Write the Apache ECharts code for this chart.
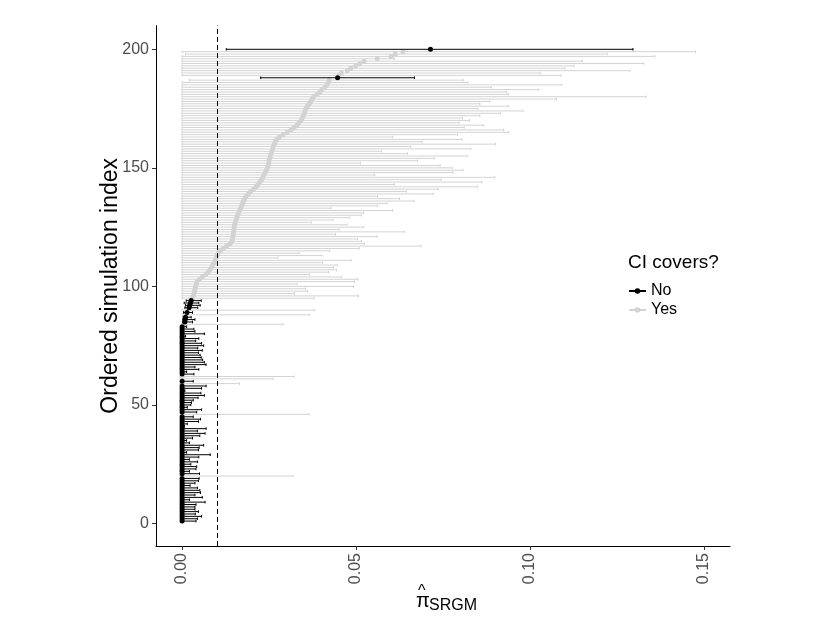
<!DOCTYPE html>
<html>
<head>
<meta charset="utf-8">
<script src="https://cdn.jsdelivr.net/npm/echarts@6/dist/echarts.min.js"></script>
<style>
  html, body { margin: 0; padding: 0; background: #fff; }
  #chart { width: 830px; height: 642px; }
</style>
</head>
<body>
<div id="chart"></div>
<script>
// one row per simulation, ordered by the point estimate (index 1..200)
var estimate = [
  0,0,0,0,0,0,0,0,0,0,
  0,0,0,0,0,0,0,0,0,0,
  0,0,0,0,0,0,0,0,0,0,
  0,0,0,0,0,0,0,0,0,0,
  0,0,0,0,0,0,0,0,0,0,
  0,0,0,0,0,0,0,0,0,0,
  0,0,0,0,0,0,0,0,0,0,
  0,0,0,0,0,0,0,0,0,0,
  0,0,0,.0005,.0008,.0009,.0010,.0012,.0014,.0017,
  .0020,.0022,.0024,.0026,.0030,.0032,.0034,.0036,.0037,.0039,
  .0041,.0043,.0050,.0058,.0068,.0075,.0080,.0085,.0088,.0092,
  .0096,.0098,.0100,.0104,.0111,.0118,.0128,.0138,.0143,.0145,
  .0146,.0147,.0148,.0149,.0150,.0151,.0153,.0155,.0157,.0159,
  .0162,.0165,.0168,.0171,.0174,.0177,.0180,.0184,.0190,.0197,
  .0205,.0213,.0218,.0223,.0228,.0232,.0235,.0239,.0242,.0245,
  .0247,.0249,.0250,.0252,.0254,.0256,.0258,.0260,.0262,.0265,
  .0268,.0272,.0280,.0290,.0302,.0313,.0322,.0330,.0336,.0342,
  .0345,.0348,.0351,.0354,.0356,.0360,.0366,.0370,.0374,.0378,
  .0388,.0396,.0402,.0410,.0416,.0420,.0423,.0447,.0451,.0458,
  .0475,.0485,.0499,.0511,.0523,.0561,.0601,.0613,.0635,.0714
];
var lower = [
  0,0,0,0,0,0,0,0,0,0,
  0,0,0,0,0,0,0,0,0,0,
  0,0,0,0,0,0,0,0,0,0,
  0,0,0,0,0,0,0,0,0,0,
  0,0,0,0,0,0,0,0,0,0,
  0,0,0,0,0,0,0,0,0,0,
  0,0,0,0,0,0,0,0,0,0,
  0,0,0,0,0,0,0,0,0,0,
  0,0,0,0,.0002,.0002,.0003,0,.0004,0,
  .0008,.0010,.0006,.0012,0,0,0,0,0,0,
  0,0,0,0,0,0,0,0,0,0,
  0,0,0,0,0,0,0,0,0,0,
  0,0,0,0,0,0,0,0,0,0,
  0,0,0,0,0,0,0,0,0,0,
  0,0,0,0,0,0,0,0,0,0,
  0,0,0,0,0,0,0,0,0,0,
  0,0,0,0,0,0,0,0,0,0,
  0,0,0,0,0,0,0,0,0,0,
  0,0,0,0,0,0,.0022,.0226,0,0,
  0,0,0,0,0,0,0,.0010,0,.0127
];
var upper = [
  .0040,.0044,.0056,.0038,.0047,.0037,.0037,.0040,.0066,.0021,
  .0058,.0037,.0053,.0051,.0044,.0023,.0037,.0047,.0049,.0318,
  .0050,.0021,.0040,.0042,.0025,.0044,.0021,.0048,.0081,.0013,
  .0047,.0049,.0062,.0021,.0013,.0030,.0051,.0066,.0044,.0069,
  .0007,.0015,.0047,.0053,.0032,.0365,.0042,.0056,.0015,.0025,
  .0027,.0032,.0046,.0064,.0054,.0008,.0056,.0069,.0165,.0032,
  .0262,.0322,.0034,.0013,.0048,.0037,.0069,.0064,.0059,.0055,
  .0052,.0047,.0058,.0045,.0062,.0056,.0039,.0048,.0010,.0064,
  .0037,.0034,.0013,.0290,.0030,.0037,.0026,.0366,.0030,.0380,
  .0045,.0052,.0048,.0055,.0379,.0507,.0323,.0361,.0354,.0493,
  .0331,.0496,.0505,.0459,.0366,.0421,.0444,.0435,.0447,.0404,
  .0486,.0276,.0402,.0337,.0424,.0509,.0687,.0524,.0515,.0504,
  .0561,.0441,.0640,.0451,.0522,.0474,.0371,.0434,.0482,.0515,
  .0522,.0605,.0428,.0562,.0589,.0667,.0625,.0562,.0722,.0645,
  .0736,.0849,.0610,.0862,.0745,.0899,.0554,.0779,.0808,.0776,
  .0742,.0513,.0677,.0725,.0819,.0648,.0573,.0830,.0657,.0901,
  .0690,.0805,.0606,.0792,.0939,.0924,.0811,.0867,.0796,.0826,
  .0806,.0856,.0915,.0980,.0850,.0939,.0856,.0885,.1076,.1334,
  .0939,.0933,.1025,.0889,.1092,.0822,.0808,.0668,.1089,.1030,
  .1287,.1101,.1127,.1327,.1151,.0610,.1359,.1222,.1476,.1296
];
// 1 = CI covers the true value, 0 = it does not
var covers = [
  0,0,0,0,0,0,0,0,0,0,
  0,0,0,0,0,0,0,0,0,1,
  0,0,0,0,0,0,0,0,0,0,
  0,0,0,0,0,0,0,0,0,0,
  0,0,0,0,0,1,0,0,0,0,
  0,0,0,0,0,0,0,0,1,0,
  1,1,0,0,0,0,0,0,0,0,
  0,0,0,0,0,0,0,0,0,0,
  0,0,0,1,0,0,0,1,0,1,
  0,0,0,0,1,1,1,1,1,1,
  1,1,1,1,1,1,1,1,1,1,
  1,1,1,1,1,1,1,1,1,1,
  1,1,1,1,1,1,1,1,1,1,
  1,1,1,1,1,1,1,1,1,1,
  1,1,1,1,1,1,1,1,1,1,
  1,1,1,1,1,1,1,1,1,1,
  1,1,1,1,1,1,1,1,1,1,
  1,1,1,1,1,1,1,1,1,1,
  1,1,1,1,1,1,1,0,1,1,
  1,1,1,1,1,1,1,1,1,0
];
var trueValue = 0.01;
var xTicks = [0, 0.05, 0.10, 0.15];
var yTicks = [0, 50, 100, 150, 200];

var GREY = '#d3d3d3';
var FONT = 'Liberation Sans, Arial, sans-serif';

// split rows by coverage
var ciYes = [], ciNo = [], ptYes = [], ptNo = [];
for (var i = 0; i < estimate.length; i++) {
	var idx = i + 1;
	if (covers[i]) {
		ciYes.push([lower[i], upper[i], idx]);
		ptYes.push([estimate[i], idx]);
	} else {
		ciNo.push([lower[i], upper[i], idx]);
		ptNo.push([estimate[i], idx]);
	}
}

// horizontal interval with tiny end caps
function ciRenderer(color){
	return function(params, api){
		var y = api.value(2);
		var a = api.coord([api.value(0), y]);
		var b = api.coord([api.value(1), y]);
		var c = 1.3;
		var st = {stroke: color, lineWidth: 1};
		return {
			type: 'group',
			children: [
				{type: 'line', shape: {x1: a[0], y1: a[1], x2: b[0], y2: b[1]}, style: st},
				{type: 'line', shape: {x1: a[0], y1: a[1]-c, x2: a[0], y2: a[1]+c}, style: st},
				{type: 'line', shape: {x1: b[0], y1: b[1]-c, x2: b[0], y2: b[1]+c}, style: st}
			]
		};
	};
}

var option = {
	animation: false,
	backgroundColor: '#fff',
	title: {
		text: 'CI covers?',
		left: 628, top: 253, padding: 0,
		textStyle: {fontSize: 19, fontWeight: 'normal', color: '#000', fontFamily: FONT}
	},
	legend: {
		data: ['No', 'Yes'],
		orient: 'vertical',
		left: 628, top: 283, padding: 0,
		itemWidth: 17, itemHeight: 7, itemGap: 3,
		textStyle: {fontSize: 16, color: '#000', fontFamily: FONT}
	},
	grid: {left: 156, right: 100, top: 25.6, bottom: 96},
	xAxis: {
		type: 'value',
		min: -0.0075, max: 0.1575,
		splitLine: {show: false},
		axisLine: {onZero: false, lineStyle: {color: '#000', width: 1}},
		axisTick: {customValues: xTicks, length: 4, lineStyle: {color: '#333'}},
		axisLabel: {
			customValues: xTicks, rotate: 90, margin: 7,
			fontSize: 16, color: '#4d4d4d', fontFamily: FONT,
			formatter: function(v){ return v.toFixed(2); }
		}
	},
	yAxis: {
		type: 'value',
		min: -9.5, max: 210,
		name: 'Ordered simulation index',
		nameLocation: 'middle', nameRotate: 90, nameGap: 34,
		nameMoveOverlap: false,
		nameTextStyle: {fontSize: 23, color: '#000', fontFamily: FONT},
		splitLine: {show: false},
		axisLine: {show: true, onZero: false, lineStyle: {color: '#000', width: 1}},
		axisTick: {show: true, customValues: yTicks, length: 4, lineStyle: {color: '#333'}},
		axisLabel: {customValues: yTicks, margin: 7, fontSize: 16, color: '#4d4d4d', fontFamily: FONT}
	},
	graphic: [
		{type: 'text', left: 418, top: 584, style: {text: '^', fontSize: 16, fill: '#000', fontFamily: FONT}},
		{type: 'text', left: 416, top: 591, style: {text: 'π', fontSize: 20, fill: '#000', fontFamily: FONT}},
		{type: 'text', left: 429, top: 598, style: {text: 'SRGM', fontSize: 16, fill: '#000', fontFamily: FONT}}
	],
	series: [
		{
			name: 'ciYes', type: 'custom', z: 2,
			renderItem: ciRenderer(GREY),
			encode: {x: [0, 1], y: 2},
			data: ciYes
		},
		{
			name: 'ptYes', type: 'scatter', z: 3,
			symbolSize: 5,
			itemStyle: {color: GREY, opacity: 1},
			data: ptYes
		},
		{
			name: 'ciNo', type: 'custom', z: 4,
			renderItem: ciRenderer('#000'),
			encode: {x: [0, 1], y: 2},
			data: ciNo
		},
		{
			name: 'ptNo', type: 'scatter', z: 5,
			symbolSize: 5,
			itemStyle: {color: '#000', opacity: 1},
			data: ptNo,
			markLine: {
				silent: true, symbol: 'none',
				label: {show: false},
				lineStyle: {color: '#000', type: [5, 3], width: 1},
				data: [{xAxis: trueValue}]
			}
		},
		// legend keys only
		{
			name: 'No', type: 'line', data: [],
			symbol: 'circle', symbolSize: 6,
			itemStyle: {color: '#000'}, lineStyle: {color: '#000', width: 1}
		},
		{
			name: 'Yes', type: 'line', data: [],
			symbol: 'circle', symbolSize: 6,
			itemStyle: {color: GREY}, lineStyle: {color: GREY, width: 1}
		}
	]
};

var chart = echarts.init(document.getElementById('chart'));
chart.setOption(option);
window.onresize = chart.resize;
</script>
</body>
</html>
